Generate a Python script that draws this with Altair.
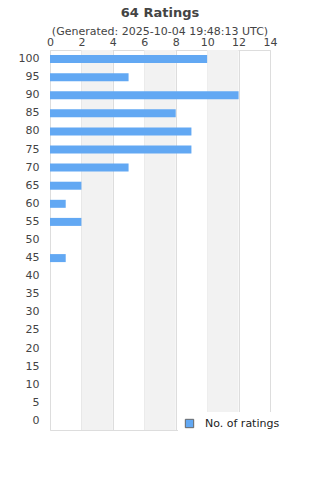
import altair as alt
import pandas as pd

ratings = [100, 95, 90, 85, 80, 75, 70, 65, 60, 55, 50, 45, 40, 35, 30, 25, 20, 15, 10, 5, 0]
counts = [10, 5, 12, 8, 9, 9, 5, 2, 1, 2, 0, 1, 0, 0, 0, 0, 0, 0, 0, 0, 0]
band_start = [2, 6, 10]
band_end = [4, 8, 12]
x_ticks = [0, 2, 4, 6, 8, 10, 12, 14]

df = pd.DataFrame({"rating": [str(r) for r in ratings], "count": counts, "series": "No. of ratings"})
bands = pd.DataFrame({"x": band_start, "x2": band_end})

font = "DejaVu Sans"
W, H = 220, 380

xscale = alt.Scale(domain=[0, 14], nice=False)
xaxis = alt.Axis(orient="top", values=x_ticks, title=None, grid=True,
                 gridColor="#dddddd", ticks=False, domain=False,
                 labelOverlap=False, labelBound=False, labelFlush=False,
                 labelPadding=3, labelFontSize=11, labelColor="#444444",
                 labelFont=font)

band_layer = alt.Chart(bands).mark_rect(color="#f2f2f2").encode(
    x=alt.X("x:Q", scale=xscale, axis=xaxis),
    x2="x2:Q",
    y=alt.value(0),
    y2=alt.value(H),
)

bars = alt.Chart(df).mark_bar(size=8).encode(
    x=alt.X("count:Q", scale=xscale, axis=xaxis),
    y=alt.Y("rating:N", sort=[str(r) for r in ratings],
            axis=alt.Axis(title=None, ticks=False, domain=False, labelPadding=11,
                          labelFontSize=11, labelColor="#444444", labelFont=font)),
    color=alt.Color("series:N", scale=alt.Scale(range=["#62a8f3"]),
                    legend=alt.Legend(title=None, orient="none", legendX=128, legendY=362,
                                      fillColor="white", padding=6, symbolType="square",
                                      symbolSize=70, symbolStrokeColor="#666666",
                                      symbolStrokeWidth=1, labelFontSize=11,
                                      labelColor="#222222", labelFont=font,
                                      labelOffset=10)),
)

chart = alt.layer(band_layer, bars).properties(
    width=W, height=H,
    title=alt.TitleParams("64 Ratings", subtitle="(Generated: 2025-10-04 19:48:13 UTC)",
                          fontSize=13, subtitleFontSize=11, font=font, subtitleFont=font,
                          color="#444444", subtitleColor="#444444", anchor="middle",
                          offset=-1, subtitlePadding=6),
    autosize=alt.AutoSizeParams(type="none"),
    padding={"left": 50, "top": 50, "right": 50, "bottom": 50},
).configure_view(stroke="#dddddd").configure_scale(bandPaddingInner=0.55).configure_axisX(
    labelOverlap=False)

chart.save("out.html", embed_options={"renderer": "svg", "actions": False})
